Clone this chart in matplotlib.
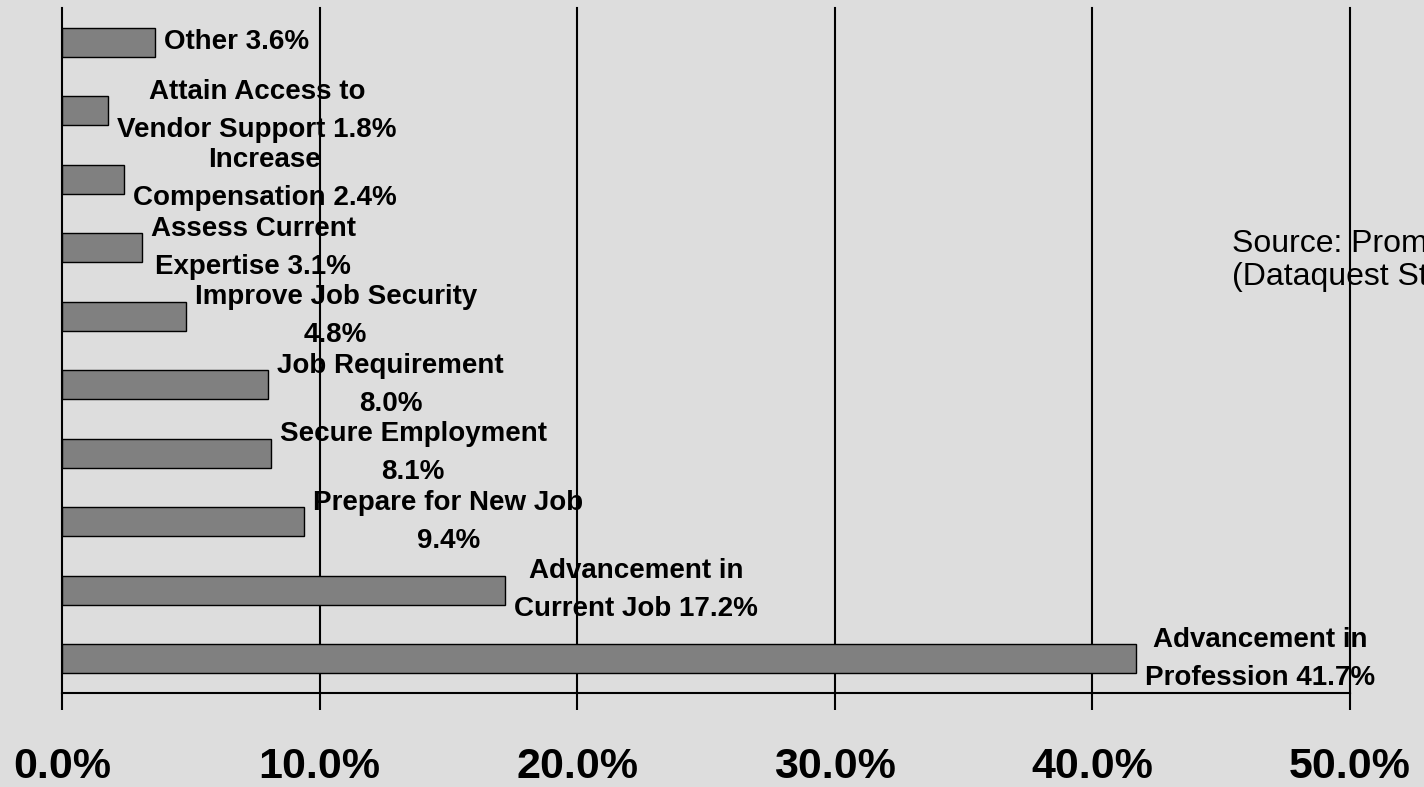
import matplotlib
matplotlib.use("Agg")
import matplotlib.pyplot as plt
from matplotlib import font_manager

# ---- data (bottom to top) ----
categories = [
    "Advancement in\nProfession",
    "Advancement in\nCurrent Job",
    "Prepare for New Job",
    "Secure Employment",
    "Job Requirement",
    "Improve Job Security",
    "Assess Current\nExpertise",
    "Increase\nCompensation",
    "Attain Access to\nVendor Support",
    "Other",
]
values = [41.7, 17.2, 9.4, 8.1, 8.0, 4.8, 3.1, 2.4, 1.8, 3.6]
value_sep = [" ", " ", "\n", "\n", "\n", "\n", " ", " ", " ", " "]
xticks = [0, 10, 20, 30, 40, 50]
xtick_labels = ["0.0%", "10.0%", "20.0%", "30.0%", "40.0%", "50.0%"]
source_lines = ["Source: Prometric", "(Dataquest Study)"]

BG = "#dddddd"
BAR = "#808080"

names = {f.name for f in font_manager.fontManager.ttflist}
base_font = ["Liberation Sans", "DejaVu Sans"]
if "Liberation Sans Narrow" in names:
    tick_font = ["Liberation Sans Narrow", "Liberation Sans", "DejaVu Sans"]
    tick_size = 37
else:
    tick_font = base_font
    tick_size = 31

plt.rcParams["font.family"] = base_font

W, H = 1424, 787
fig = plt.figure(figsize=(W / 100, H / 100), dpi=100, facecolor=BG)
left, right, top, bottom = 62, 1350, 8, 693
ax = fig.add_axes([left / W, 1 - bottom / H, (right - left) / W, (bottom - top) / H])
ax.set_facecolor(BG)

ypos = list(range(len(values)))
ax.barh(ypos, values, height=0.42, color=BAR, edgecolor="black", linewidth=1.0, zorder=3)

for y, v, c, s in zip(ypos, values, categories, value_sep):
    ax.annotate(f"{c}{s}{v:.1f}%", xy=(v, y), xytext=(6.5, 0), textcoords="offset points",
                ha="left", va="center", multialignment="center",
                fontsize=20, fontweight="bold", linespacing=1.62, zorder=4)

ax.set_xlim(0, 50)
ax.set_ylim(-0.5, len(values) - 0.5)
ax.set_xticks(xticks)
ax.set_xticklabels(xtick_labels, fontsize=tick_size, fontweight="bold", family=tick_font)
ax.set_yticks([])
ax.tick_params(axis="x", direction="out", length=12.2, width=1.5, color="black", pad=26.5)
ax.grid(axis="x", color="black", linewidth=1.5, zorder=2)
for gl in ax.xaxis.get_gridlines():
    gl.set_clip_on(False)
ax.set_axisbelow(False)
for side in ["left", "right", "top"]:
    ax.spines[side].set_visible(False)
ax.spines["bottom"].set_linewidth(1.5)
ax.spines["bottom"].set_zorder(5)

fig.text(1232 / W, 1 - 244 / H, source_lines[0], fontsize=23, ha="left", va="center")
fig.text(1232 / W, 1 - 277 / H, source_lines[1], fontsize=23, ha="left", va="center")

fig.savefig("out.png", dpi=100, facecolor=BG)
